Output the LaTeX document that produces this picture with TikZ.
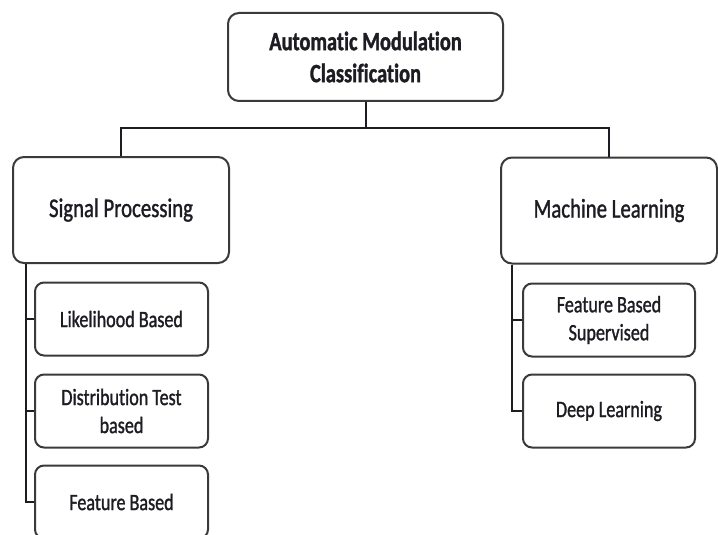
\documentclass[tikz,border=0pt]{standalone}
\usepackage{fontspec}
\newfontfamily\boxfont[FakeStretch=0.77, FakeBold=1.2, Ligatures=NoCommon]{Carlito}
\definecolor{edgegray}{HTML}{3A3A3A}
\definecolor{inkgray}{HTML}{1C1C22}
\tikzset{
  box/.style={draw=edgegray, line width=2pt, rounded corners=11pt, fill=white,
    align=center, inner sep=0pt, text=inkgray},
  bigbox/.style={box, minimum width=216pt, minimum height=106pt,
    font=\boxfont\fontsize{27}{32}\selectfont},
  topbox/.style={box, minimum width=275pt, minimum height=88pt,
    font=\boxfont\bfseries\fontsize{26.5}{32}\selectfont},
  leafbox/.style={box, rounded corners=9pt, minimum width=173pt, minimum height=73pt,
    font=\boxfont\fontsize{23.5}{28}\selectfont},
  link/.style={draw=inkgray, line width=2pt}
}
\begin{document}
\begin{tikzpicture}[x=1pt, y=-1pt]
  \useasboundingbox (0,0) rectangle (718,535);
  \begin{scope}
    \clip (0,0) rectangle (718,535);

    % root and the two families
    \node[topbox] (root) at (365.5,57) {Automatic Modulation\\Classification};
    \node[bigbox] (sp) at (121,210) {Signal Processing};
    \node[bigbox] (ml) at (609,210.5) {Machine Learning};

    % signal processing methods
    \node[leafbox] (lb) at (121.5,319) {Likelihood Based};
    \node[leafbox] (dt) at (121.5,411) {Distribution Test\\based};
    \node[leafbox] (fb) at (121.5,502) {Feature Based};

    % machine learning methods
    \node[leafbox, minimum width=172pt] (fs) at (609,320) {Feature Based\\Supervised};
    \node[leafbox, minimum width=172pt] (dl) at (609,411) {Deep Learning};

    % bus joining the root to both families
    \coordinate (bus) at (365.5,128);
    \draw[link] (root.south) -- (bus);
    \draw[link] (sp.north) |- (bus) -| (ml.north);

    % left spine
    \coordinate (sptrunk) at ([xshift=14pt]sp.south west);
    \draw[link] (sptrunk) |- (fb.west);
    \draw[link] (sptrunk |- lb.west) -- (lb.west);
    \draw[link] (sptrunk |- dt.west) -- (dt.west);

    % right spine
    \coordinate (mltrunk) at ([xshift=12pt]ml.south west);
    \draw[link] (mltrunk) |- (dl.west);
    \draw[link] (mltrunk |- fs.west) -- (fs.west);
  \end{scope}
\end{tikzpicture}
\end{document}
